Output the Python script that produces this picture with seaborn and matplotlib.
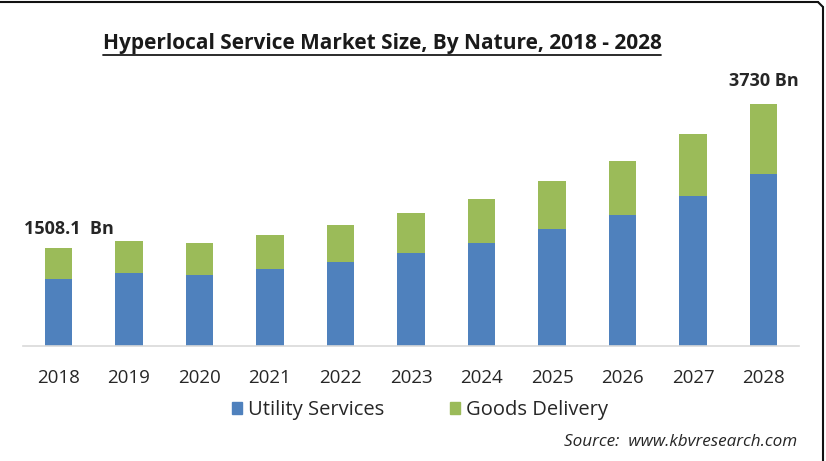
import matplotlib
matplotlib.use("Agg")
import matplotlib.pyplot as plt
import seaborn as sns
import pandas as pd
from matplotlib.lines import Line2D

years = ["2018", "2019", "2020", "2021", "2022", "2023", "2024", "2025", "2026", "2027", "2028"]
utility_services = [1023, 1116, 1094, 1182, 1295, 1430, 1588, 1794, 2014, 2312, 2651]
goods_delivery = [485, 493, 494, 520, 565, 608, 678, 740, 837, 946, 1079]
title = "Hyperlocal Service Market Size, By Nature, 2018 - 2028"
first_label = "1508.1  Bn"
last_label = "3730 Bn"
source = "Source:  www.kbvresearch.com"

BLUE = "#4F81BD"
GREEN = "#9BBB59"

df = pd.DataFrame({
    "year": years,
    "utility": utility_services,
    "total": [u + g for u, g in zip(utility_services, goods_delivery)],
})

sns.set_theme(style="white")
plt.rcParams["font.family"] = ["Open Sans", "DejaVu Sans"]

W, H = 826, 461
fig = plt.figure(figsize=(W / 100, H / 100), dpi=100)
ax = fig.add_axes([23 / W, 1 - 345.7 / H, (799 - 23) / W, (345.7 - 60) / H])

sns.barplot(data=df, x="year", y="total", color=GREEN, width=0.39, ax=ax,
            saturation=1, edgecolor="none")
sns.barplot(data=df, x="year", y="utility", color=BLUE, width=0.39, ax=ax,
            saturation=1, edgecolor="none")

ax.set_xlim(-0.5, len(years) - 0.5)
ax.set_ylim(0, 3730 / 242 * (345.7 - 60))
ax.set_xlabel("")
ax.set_ylabel("")
ax.set_yticks([])
for s in ["top", "right", "left"]:
    ax.spines[s].set_visible(False)
ax.spines["bottom"].set_color("#d9d9d9")
ax.spines["bottom"].set_linewidth(1.2)
ax.tick_params(axis="x", length=0, pad=17, labelsize=13.5, labelcolor="#262626")

# annotations
ax.annotate(first_label, xy=(0, df["total"].iloc[0]), xytext=(-24.5, 7),
            textcoords="offset points", fontsize=13, fontweight="bold",
            color="#262626", ha="left", va="bottom")
ax.annotate(last_label, xy=(len(years) - 1, df["total"].iloc[-1]), xytext=(0, 10),
            textcoords="offset points", fontsize=13, fontweight="bold",
            color="#262626", ha="center", va="bottom")

# title with underline
t = fig.text(382 / W, 1 - 43 / H, title, ha="center", va="center",
             fontsize=15, fontweight="bold", color="#1a1a1a")

# legend
handles = [plt.Rectangle((0, 0), 1, 1, color=BLUE), plt.Rectangle((0, 0), 1, 1, color=GREEN)]
fig.legend(handles, ["Utility Services", "Goods Delivery"], loc="center",
           bbox_to_anchor=(420 / W, 1 - 410 / H), ncol=2, frameon=False,
           fontsize=14.5, handlelength=0.5, handleheight=0.5, handletextpad=0.3,
           columnspacing=3.3, labelcolor="#262626")

fig.text(797 / W, 1 - 442 / H, source, ha="right", va="center",
         fontsize=12.3, style="italic", color="#262626")

# border lines (top and right edges)
fig.add_artist(Line2D([0, 818 / W], [1 - 2 / H, 1 - 2 / H], transform=fig.transFigure,
                      color="#111111", lw=1.5))
fig.add_artist(Line2D([823 / W, 823 / W], [1 - 7 / H, 0], transform=fig.transFigure,
                      color="#111111", lw=1.5))
fig.add_artist(Line2D([818 / W, 823 / W], [1 - 2 / H, 1 - 7 / H], transform=fig.transFigure,
                      color="#111111", lw=1.5))

fig.canvas.draw()
bb = t.get_window_extent(renderer=fig.canvas.get_renderer())
uy = (bb.y0 - 2) / H
fig.add_artist(Line2D([bb.x0 / W, bb.x1 / W], [uy, uy], transform=fig.transFigure,
                      color="#1a1a1a", lw=1.3))

fig.savefig("out.png", dpi=100)
